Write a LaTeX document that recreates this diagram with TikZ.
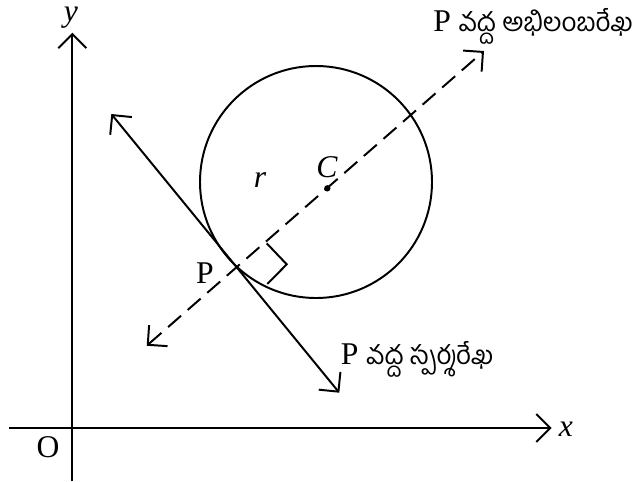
\documentclass[tikz,border=0pt]{standalone}
\usepackage{fontspec}
\setmainfont{Liberation Serif}
\newfontfamily\telugufont[Script=Telugu]{Hind Guntur}
\usetikzlibrary{arrows.meta}

\begin{document}
\begin{tikzpicture}[
  font=\fontsize{22.5pt}{26pt}\selectfont,
  >={Straight Barb[length=0.35cm, width=0.7cm]},
  linea/.style={draw=black, line width=1.4pt},
  freccia/.style={linea, ->},
  normale/.style={linea, <->, dash pattern=on 0.43cm off 0.22cm},
  etichetta/.style={inner sep=0pt, anchor=base},
  didascalia/.style={inner sep=0pt, anchor=base west},
  puntino/.style={circle, fill=black, inner sep=0pt, minimum size=0.16cm}
]

%--------------------------------------------------------------
% Cornice
%--------------------------------------------------------------
\useasboundingbox (0.000,0.000) rectangle (15.900,-12.025);

%--------------------------------------------------------------
% Assi
%--------------------------------------------------------------
\coordinate (asseYbasso) at (1.808,-12.025);
\coordinate (asseYalto) at (1.808,-0.818);
\coordinate (asseXsx) at (0.233,-10.700);
\coordinate (asseXdx) at (13.793,-10.700);
\draw[freccia] (asseYbasso) -- (asseYalto);
\draw[freccia] (asseXsx) -- (asseXdx);
\node[etichetta] (lblY) at (1.775,-0.540) {\textit{y}};
\node[etichetta] (lblX) at (14.150,-10.900) {\textit{x}};
\node[etichetta] (lblO) at (1.200,-11.425) {O};

%--------------------------------------------------------------
% Cerchio con centro C
%--------------------------------------------------------------
\draw[linea] (7.900,-4.550) circle (2.900);
\node[puntino] (C) at (8.183,-4.708) {};
\node[etichetta] (lblC) at (8.175,-4.425) {\textit{C}};
\node[etichetta] (lblR) at (6.500,-4.675) {\textit{r}};

%--------------------------------------------------------------
% Punto P, normale e tangente
%--------------------------------------------------------------
\coordinate (P) at (5.958,-6.708);
\node[etichetta] (lblP) at (5.125,-7.075) {P};
% normale (tratteggiata)
\coordinate (normA) at (3.668,-8.643);
\coordinate (normB) at (12.100,-1.275);
\draw[normale] (normA) -- (normB);
% tangente
\coordinate (tangA) at (2.783,-2.850);
\coordinate (tangB) at (8.483,-9.818);
\draw[linea, <->] (tangA) -- (tangB);
% angolo retto
\coordinate (retto1) at (6.668,-6.083);
\coordinate (retto2) at (7.168,-6.608);
\coordinate (retto3) at (6.683,-7.100);
\draw[linea] (retto1) -- (retto2) -- (retto3);

%--------------------------------------------------------------
% Didascalie
%--------------------------------------------------------------
\node[didascalia] (lblNorm) at (10.825,-0.775) {P {\telugufont\fontsize{18.5pt}{22pt}\selectfont వద్ద అభిలంబరేఖ}};
\node[didascalia] (lblTang) at (8.517,-9.100) {P {\telugufont\fontsize{18.5pt}{22pt}\selectfont వద్ద స్పర్శరేఖ}};

\end{tikzpicture}
\end{document}
